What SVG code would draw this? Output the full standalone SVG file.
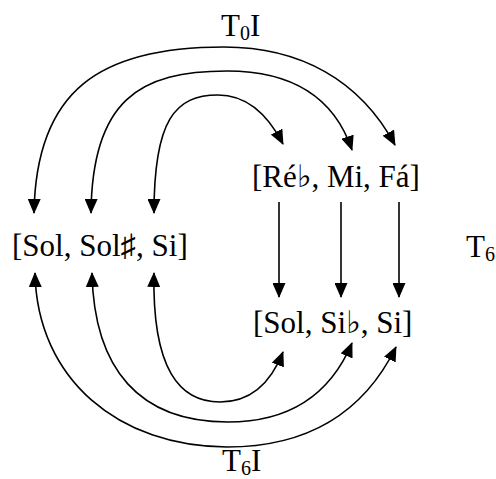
<svg xmlns="http://www.w3.org/2000/svg" width="496" height="479" viewBox="0 0 496 479">
  <style>
    .t { font-family: "Liberation Serif", "DejaVu Serif", serif; font-size: 31px; fill: #000; }
    .lbl { font-family: "Liberation Serif", "DejaVu Serif", serif; font-size: 31px; fill: #000; }
    .sub { font-size: 20px; }
    .c { fill: none; stroke: #000; stroke-width: 1.6; marker-end: url(#ah); }
    .d { marker-start: url(#ah); }
  </style>
  <defs>
    <marker id="ah" markerUnits="userSpaceOnUse" viewBox="0 0 15 13" markerWidth="15" markerHeight="13" refX="14" refY="6.5" orient="auto-start-reverse">
      <path d="M0,0 L15,6.5 L0,13 z" fill="#000"/>
    </marker>
  </defs>
  <rect width="496" height="479" fill="#fff"/>

  <g id="connectors">
    <!-- top arcs T0I -->
    <path class="c d" d="M 34 213 C 36 90, 100 47, 224 47 C 300 47, 360 80, 395 145"/>
    <path class="c d" d="M 91 213 C 92 100, 140 71, 227 71 C 295 71, 335 100, 352 150"/>
    <path class="c d" d="M 154 213 C 154 120, 175 95, 218 95 C 248 95, 268 115, 283 144"/>
    <!-- vertical arrows T6 -->
    <path class="c" d="M 279 202 L 279 297"/>
    <path class="c" d="M 341 202 L 341 297"/>
    <path class="c" d="M 399 202 L 399 297"/>
    <!-- bottom arcs T6I -->
    <path class="c d" d="M 35 273 C 37 380, 120 447, 227 447 C 310 447, 365 410, 396 347"/>
    <path class="c d" d="M 92 273 C 94 370, 140 422, 228 422 C 290 422, 330 395, 352 343"/>
    <path class="c d" d="M 154 273 C 152 370, 180 402, 220 402 C 250 402, 270 385, 283 352"/>
  </g>

  <g id="node-sol-solsharp-si">
    <text class="t" x="12" y="256">[Sol, Sol♯, Si]</text>
  </g>
  <g id="node-reb-mi-fa">
    <text class="t" x="252" y="187">[Ré♭, Mi, Fá]</text>
  </g>
  <g id="node-sol-sib-si">
    <text class="t" x="253" y="333">[Sol, Si♭, Si]</text>
  </g>

  <g id="label-T0I">
    <text class="lbl" x="221" y="36">T<tspan class="sub" dy="4">0</tspan><tspan dy="-4">I</tspan></text>
  </g>
  <g id="label-T6">
    <text class="lbl" x="466" y="257">T<tspan class="sub" dy="4">6</tspan></text>
  </g>
  <g id="label-T6I">
    <text class="lbl" x="222" y="471">T<tspan class="sub" dy="4">6</tspan><tspan dy="-4">I</tspan></text>
  </g>
</svg>
